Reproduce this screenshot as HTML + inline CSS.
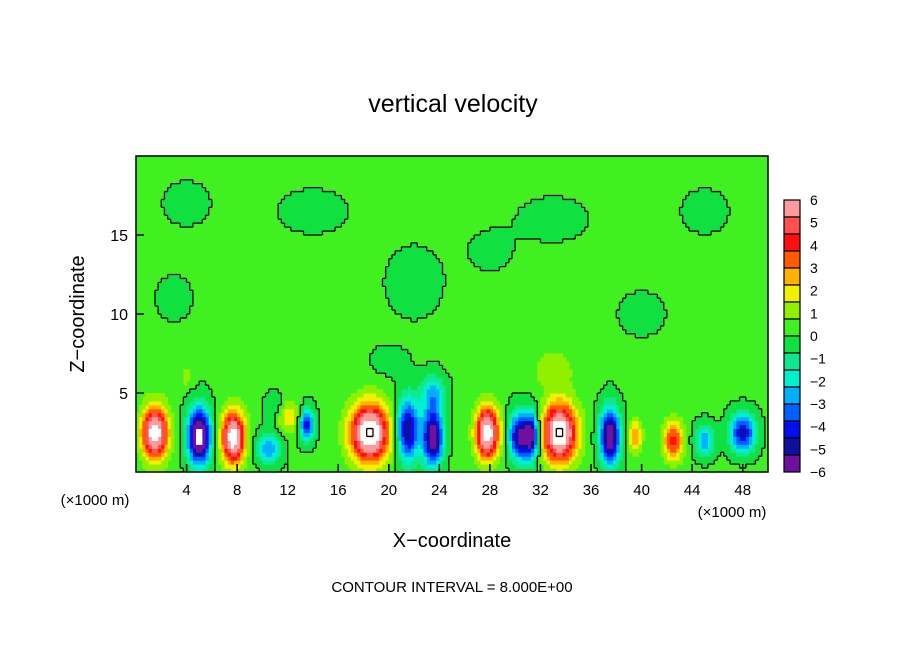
<!DOCTYPE html>
<html><head><meta charset="utf-8"><style>
body{margin:0;background:#fff;font-family:"Liberation Sans",sans-serif}
text{font-family:"Liberation Sans",sans-serif;fill:#000}
</style></head><body>
<svg id="chart" width="904" height="654" viewBox="0 0 904 654">
<text x="453" y="112" font-size="25" text-anchor="middle">vertical velocity</text>
<g id="field"></g>
<g id="contours"></g>
<rect x="136" y="156" width="632" height="316" fill="none" stroke="#000" stroke-width="1.5"/>
<g id="axes"></g>
<g id="cbar"></g>
<text x="84" y="314" font-size="20" text-anchor="middle" transform="rotate(-90 84 314)">Z−coordinate</text>
<text x="452" y="547" font-size="20" text-anchor="middle">X−coordinate</text>
<text x="95" y="505" font-size="15" text-anchor="middle">(×1000 m)</text>
<text x="732" y="517" font-size="15" text-anchor="middle">(×1000 m)</text>
<text x="452" y="592" font-size="15" text-anchor="middle">CONTOUR INTERVAL = 8.000E+00</text>
</svg>
<script>
const xTicks=[4,8,12,16,20,24,28,32,36,40,44,48];
const zTicks=[5,10,15];
const cbarLabels=[6,5,4,3,2,1,0,-1,-2,-3,-4,-5,-6];
const cbarColors=["#ff9a9a","#ff5050","#ff1010","#ff5a00","#ffb000","#f0f000","#90f000","#40f020","#10e040","#10e890","#00f0d0","#00b0ff","#0060ff","#0010f0","#1010a0","#7010a0"];
const contourLevels=[-8,0,8];
const baseValue=0.2;
const blobX=[1.5,5,7.7,10.5,12,13.5,18.5,21.5,23.5,23.5,27.8,30.3,31.3,33.5,37.5,39.5,42.5,45,48,33,11,4,4,14,22,33,45,3,20,28,40];
const blobZ=[2.5,2.3,2.2,1.5,3.5,3,2.5,2.7,2.2,5,2.5,2.3,2.3,2.5,2.3,2.3,2,2,2.5,6.5,4,6,17,16.5,12,16,16.5,11,7,14,10];
const blobA=[7.5,-7.5,7.5,-3,2,-4.5,8,-5.5,-6.5,-2.5,7.5,-5.5,-5.5,8,-6.5,3,4,-3,-5,1.2,-1.2,0.8,-0.5,-0.5,-0.5,-0.5,-0.5,-0.5,-0.6,-0.4,-0.5];
const blobSX=[1.0,0.9,0.9,1,1,0.6,1.5,0.9,0.8,1,0.9,0.8,0.6,1.3,0.8,0.5,0.8,0.8,1,1.5,0.8,0.6,2,3,2.5,3,2,1.5,1.5,2,2];
const blobSZ=[1.6,1.8,1.6,1,1,1,1.8,2,1.8,1.2,1.6,1.5,1.5,1.8,1.8,1,1.2,1,1.2,1.2,1,0.8,1.5,1.5,2.5,1.5,1.5,1.5,1,1.5,1.5];
const X0=136,X1=768,Y0=472,Y1=156;
const sx=v=>X0+(v/50)*(X1-X0), sz=v=>Y0-(v/20)*(Y0-Y1);
const NS="http://www.w3.org/2000/svg";
function mk(t,a,p){const e=document.createElementNS(NS,t);for(const k in a)e.setAttribute(k,a[k]);p.appendChild(e);return e;}
function val(x,z){let v=baseValue;for(let i=0;i<blobX.length;i++){const dx=(x-blobX[i])/blobSX[i],dz=(z-blobZ[i])/blobSZ[i];v+=blobA[i]*Math.exp(-(dx*dx+dz*dz));}return v;}
function col(v){if(v>6.6||v<-6.6)return "#ffffff";let i=Math.floor((6-v)/0.75);i=Math.max(0,Math.min(15,i));return cbarColors[i];}
const field=document.getElementById('field');
const bg=mk('rect',{x:X0,y:Y1,width:X1-X0,height:Y0-Y1,fill:col(baseValue)},field);


const nx=200,nz=80,dx=50/nx,dz=20/nz;
const grid=[];
for(let j=0;j<nz;j++){grid.push([]);for(let i=0;i<nx;i++){
 const x=(i+0.5)*dx,z=(j+0.5)*dz;
 const v=val(x,z);grid[j].push(v);
 const c=col(v);
 if(c===col(baseValue))continue;
 const r=mk('rect',{x:sx(i*dx),y:sz((j+1)*dz),width:(X1-X0)/nx+0.5,height:(Y0-Y1)/nz+0.5,fill:c},field);
 
 
}}
const cont=document.getElementById('contours');
let d='';
for(let j=0;j<nz;j++)for(let i=0;i<nx;i++){
 const v=grid[j][i];
 contourLevels.forEach(L=>{
  if(i+1<nx&&(v-L)*(grid[j][i+1]-L)<0){const X=sx((i+1)*dx);d+=`M${X} ${sz(j*dz)}V${sz((j+1)*dz)}`;}
  if(j+1<nz&&(v-L)*(grid[j+1][i]-L)<0){const Y=sz((j+1)*dz);d+=`M${sx(i*dx)} ${Y}H${sx((i+1)*dx)}`;}
 });
}
const cp=mk('path',{d:d,stroke:'#000','stroke-width':1.3,fill:'none'},cont);


const axes=document.getElementById('axes');
xTicks.forEach(t=>{
 const l=mk('line',{x1:sx(t),x2:sx(t),y1:Y0,y2:Y0-8,stroke:'#000','stroke-width':1.5},axes);
 
 
 const tx=mk('text',{x:sx(t),y:495,'font-size':15,'text-anchor':'middle'},axes);tx.textContent=t;
 
 
});
zTicks.forEach(t=>{
 const l=mk('line',{x1:X0,x2:X0+8,y1:sz(t),y2:sz(t),stroke:'#000','stroke-width':1.5},axes);
 
 
 const tx=mk('text',{x:128,y:sz(t)+6,'font-size':16,'text-anchor':'end'},axes);tx.textContent=t;
 
 
});
const cb=document.getElementById('cbar');
const cy0=200,cy1=472,bh=(cy1-cy0)/cbarColors.length;
cbarColors.forEach((c,i)=>{
 const r=mk('rect',{x:784,y:cy0+i*bh,width:16,height:bh,fill:c,stroke:'#000','stroke-width':1.2},cb);
 
 
});
cbarLabels.forEach((v,i)=>{
 const y=cy0+i*(cy1-cy0)/(cbarLabels.length-1);
 const t=mk('text',{x:810,y:y+5,'font-size':14},cb);t.textContent=v<0?'−'+(-v):v;
 
 
});
</script>
</body></html>
